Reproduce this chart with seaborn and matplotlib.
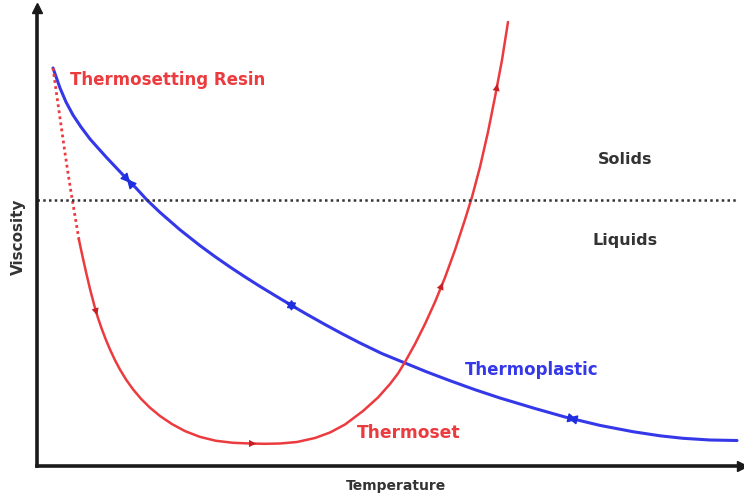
# Viscosity vs temperature: thermoset vs thermoplastic (schematic)

import numpy as np
import matplotlib.pyplot as plt
import pandas as pd
import seaborn as sns

# curves (arbitrary units: temperature, viscosity)
blue_temp = [16, 23, 29, 36, 44, 53, 61, 70, 79, 88, 99, 110, 123, 143, 163, 178, 193, 208, 223, 238,
             253, 270, 288, 305, 323, 345, 368, 390, 413, 438, 463, 498, 528, 563, 596, 623, 646, 673, 700]
blue_visc = [398, 378, 364, 351, 339, 327, 318, 308, 298.5, 289, 278, 266, 253.6, 236.2, 220.4, 209.4, 199, 189.1, 179.6, 170.5,
             161.5, 151.6, 141.5, 132.3, 123, 112.4, 103, 94, 85.3, 76.3, 68, 57.5, 49, 40.6, 34.3, 30.2, 27.7, 26, 25.5]

resin_temp = [16, 19, 22, 25, 28, 31, 34, 37, 40, 42]
resin_visc = [398, 376, 355, 334, 313, 293, 274, 256, 238, 226]

set_temp = [42, 45, 49, 53, 58, 61, 65, 69, 73, 78, 83, 89, 96, 104, 113, 123, 135, 148, 163, 179,
            196, 213, 228, 243, 260, 278, 293, 308, 326, 341, 353, 361, 368, 378, 388, 398, 408, 418, 428, 435,
            443, 451, 458, 465, 471]
set_visc = [226, 212, 194, 177, 158, 148, 136.4, 126, 116.5, 105.8, 96.4, 86.5, 76.7, 67.2, 58.3, 50, 41.9, 34.9, 29.1, 25.2,
            23.2, 22.5, 22.2, 22.5, 24, 28, 33.5, 41.5, 55, 68.5, 82, 92.5, 104, 122, 142, 164, 188.5, 216, 246.5, 269,
            299, 334, 369, 406, 444]

# direction arrows (tail -> head)
set_arrows = [((58, 158), (61, 148)), ((212, 22.5), (222, 22.3)), ((402, 174), (407, 186)), ((458, 369), (461, 385))]
blue_arrows = [((88, 289), (95, 281)), ((246, 165.7), (263, 155.7)), ((528, 49), (543, 45.4))]

solid_line = 266

red = "#ec3b3f"
blue = "#3438e8"

sns.set_style("white")
plt.rcParams['font.family'] = ['DejaVu Sans']

fig = plt.figure(figsize=(7.44, 4.99), dpi=100)
ax = fig.add_axes([37 / 744, 33 / 499, 705 / 744, 458 / 499])

thermoplastic = pd.DataFrame({"T": blue_temp, "V": blue_visc})
resin = pd.DataFrame({"T": resin_temp, "V": resin_visc})
thermoset = pd.DataFrame({"T": set_temp, "V": set_visc})

sns.lineplot(data=thermoplastic, x="T", y="V", sort=False, estimator=None, color=blue, lw=2.2, ax=ax)
sns.lineplot(data=resin, x="T", y="V", sort=False, estimator=None, color=red, lw=2, ls=(0, (1, 1.2)), ax=ax)
sns.lineplot(data=thermoset, x="T", y="V", sort=False, estimator=None, color=red, lw=1.8, ax=ax)

for tail, head in set_arrows:
    ax.annotate("", xy=head, xytext=tail,
                arrowprops=dict(arrowstyle="-|>", color="#c81e24", lw=0, mutation_scale=13))
for tail, head in blue_arrows:
    ax.annotate("", xy=head, xytext=tail,
                arrowprops=dict(arrowstyle="<|-|>", color="#1f2fe0", lw=1, mutation_scale=14))

ax.axhline(solid_line, xmax=0.994, color="#333333", ls=(0, (1, 1.3)), lw=1.8)

ax.text(131, 386, "Thermosetting Resin", color=red, fontsize=12, fontweight="bold", ha="center", va="center")
ax.text(588, 306, "Solids", color="#333333", fontsize=11.5, fontweight="bold", ha="center", va="center")
ax.text(588, 226, "Liquids", color="#333333", fontsize=11.5, fontweight="bold", ha="center", va="center")
ax.text(495, 96, "Thermoplastic", color=blue, fontsize=12, fontweight="bold", ha="center", va="center")
ax.text(372, 33, "Thermoset", color=red, fontsize=12.3, fontweight="bold", ha="center", va="center")

fig.text(396 / 744, 1 - 486 / 499, "Temperature", color="#333333", fontsize=10, fontweight="bold",
         ha="center", va="center")
fig.text(18 / 744, 1 - 237 / 499, "Viscosity", color="#333333", fontsize=11, fontweight="bold",
         ha="center", va="center", rotation=90)

ax.set_xlim(0, 705)
ax.set_ylim(0, 458)
ax.set_xlabel("")
ax.set_ylabel("")
ax.set_xticks([])
ax.set_yticks([])
sns.despine(ax=ax)
for side in ["left", "bottom"]:
    ax.spines[side].set_linewidth(2.6)
    ax.spines[side].set_color("#1a1a1a")
ax.plot(1, 0, ">", color="#1a1a1a", ms=7, transform=ax.get_yaxis_transform(), clip_on=False)
ax.plot(0, 1, "^", color="#1a1a1a", ms=7, transform=ax.get_xaxis_transform(), clip_on=False)

fig.savefig("out.png", dpi=100)
